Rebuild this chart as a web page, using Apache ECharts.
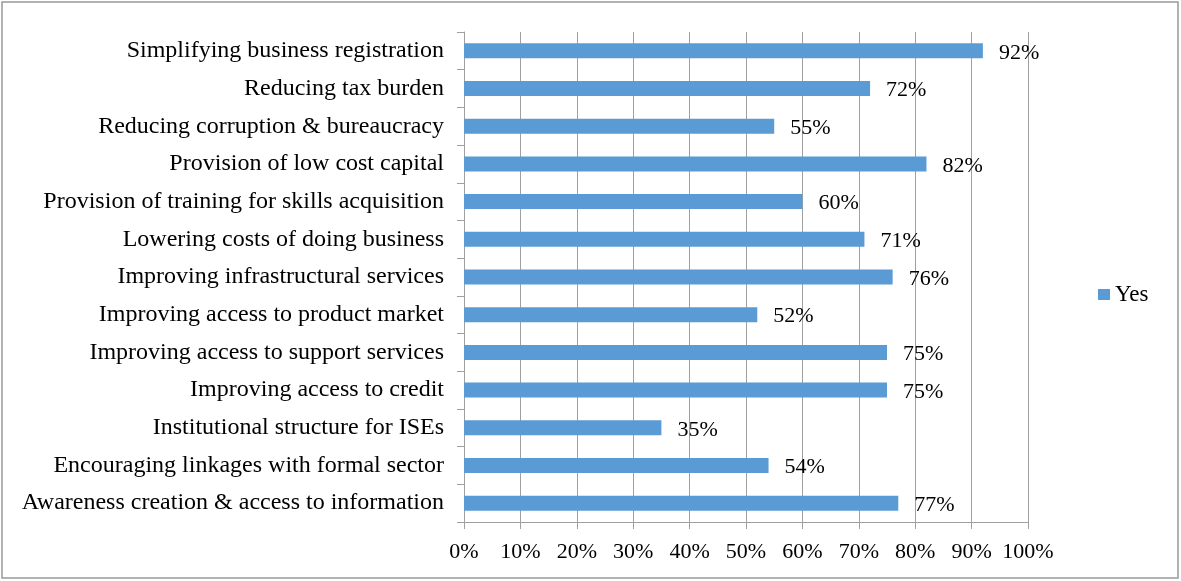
<!DOCTYPE html>
<html><head><meta charset="utf-8">
<script src="https://cdn.jsdelivr.net/npm/echarts@6/dist/echarts.min.js"></script>
<style>html,body{margin:0;padding:0;background:#fff}#c{width:1181px;height:581px}</style>
</head><body><div id="c"></div>
<script>
const categories = [
  "Simplifying business registration",
  "Reducing tax burden",
  "Reducing corruption & bureaucracy",
  "Provision of low cost capital",
  "Provision of training for skills acquisition",
  "Lowering costs of doing business",
  "Improving infrastructural services",
  "Improving access to product market",
  "Improving access to support services",
  "Improving access to credit",
  "Institutional structure for ISEs",
  "Encouraging linkages with formal sector",
  "Awareness creation & access to information"
];
const yesValues = [92, 72, 55, 82, 60, 71, 76, 52, 75, 75, 35, 54, 77];
const seriesName = "Yes";

const font = "'Liberation Serif','Times New Roman',serif";
const chart = echarts.init(document.getElementById('c'), null, {renderer: 'canvas'});
chart.setOption({
  animation: false,
  backgroundColor: '#fff',
  graphic: [{
    type: 'rect', shape: {x: 2, y: 2, width: 1176, height: 576},
    style: {fill: 'none', stroke: '#999999', lineWidth: 1.5}, silent: true
  }],
  grid: {left: 464, right: 153, top: 32, bottom: 59, containLabel: false},
  legend: {
    data: [seriesName], orient: 'vertical', left: 1093, top: 278,
    itemWidth: 12, itemHeight: 11, itemGap: 6,
    icon: 'rect',
    textStyle: {fontFamily: font, fontSize: 23, color: '#000'}
  },
  xAxis: {
    type: 'value', min: 0, max: 100, interval: 10,
    axisLine: {show: true, lineStyle: {color: '#a0a0a0', width: 1}},
    axisTick: {show: true, length: 7, lineStyle: {color: '#a0a0a0'}},
    splitLine: {show: true, lineStyle: {color: '#a0a0a0', width: 1}},
    axisLabel: {formatter: '{value}%', fontFamily: font, fontSize: 22, color: '#000', margin: 19}
  },
  yAxis: {
    type: 'category', data: categories, inverse: true,
    axisLine: {show: true, lineStyle: {color: '#a0a0a0', width: 1}},
    axisTick: {show: true, length: 7, alignWithLabel: false, lineStyle: {color: '#a0a0a0'}},
    axisLabel: {fontFamily: font, fontSize: 24, color: '#000', margin: 20, padding: [4, 0, 0, 0]}
  },
  series: [{
    name: seriesName, type: 'bar', data: yesValues,
    barWidth: 15,
    itemStyle: {color: '#5b9bd5'},
    label: {show: true, position: 'right', distance: 16, formatter: '{c}%', offset: [0, 2],
      fontFamily: font, fontSize: 22, color: '#000'}
  }]
});
</script></body></html>
